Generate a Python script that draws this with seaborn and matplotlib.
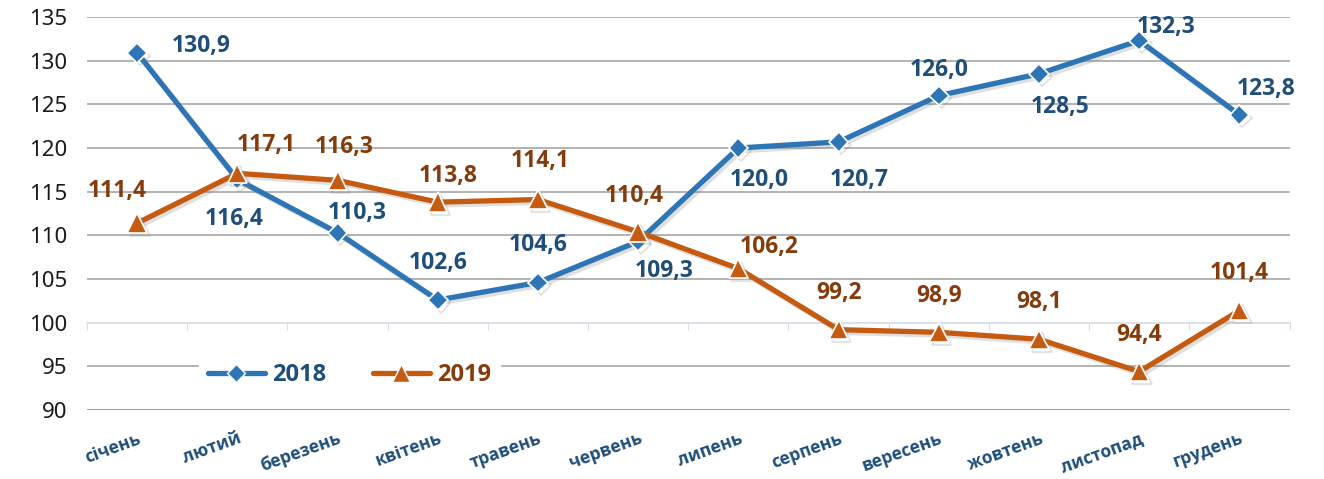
import seaborn as sns
import matplotlib.pyplot as plt
import matplotlib.patheffects as pe
from matplotlib import font_manager as fm
from matplotlib.lines import Line2D
import pandas as pd

# Data
months = ['січень', 'лютий', 'березень', 'квітень', 'травень', 'червень',
          'липень', 'серпень', 'вересень', 'жовтень', 'листопад', 'грудень']
v2018 = [130.9, 116.4, 110.3, 102.6, 104.6, 109.3, 120.0, 120.7, 126.0, 128.5, 132.3, 123.8]
v2019 = [111.4, 117.1, 116.3, 113.8, 114.1, 110.4, 106.2, 99.2, 98.9, 98.1, 94.4, 101.4]

# label offsets in pixels (dx, dy) relative to each point
off2018 = [(64, 7), (-3, -40), (20, 20), (0, 37), (0, 38), (26, -30),
           (21, -32), (21, -38), (0, 26), (21, -33), (27, 14), (27, 26)]
off2019 = [(-20, 32), (29, 28), (7, 33), (10, 26), (2, 39), (-4, 36),
           (31, 22), (0, 37), (0, 36), (0, 37), (0, 37), (0, 37)]

c18_line, c18_text = '#2E75B6', '#1F4E79'
c19_line, c19_text = '#C55A11', '#843C0C'

df = pd.DataFrame({
    'month': months * 2,
    'value': v2018 + v2019,
    'year': ['2018'] * 12 + ['2019'] * 12,
})

sns.set_style('white')

# pick a family that really has a bold face installed
bold_fams = {f.name for f in fm.fontManager.ttflist
             if (f.weight == 'bold' or (isinstance(f.weight, int) and f.weight >= 700))}
bold_font = next((f for f in ['Noto Sans', 'Open Sans', 'Lato', 'Roboto',
                              'Liberation Sans', 'DejaVu Sans'] if f in bold_fams), 'DejaVu Sans')
plt.rcParams['font.family'] = ['Noto Sans', 'DejaVu Sans']
bfam = [bold_font, 'DejaVu Sans']

fig = plt.figure(figsize=(13.24, 4.79), dpi=100)
ax = fig.add_axes([0.0657, 0.144, 0.9083, 0.8205])

shadow = [pe.SimpleLineShadow(offset=(2, -2), alpha=0.25, shadow_color='gray'), pe.Normal()]

sns.lineplot(data=df[df.year == '2018'], x='month', y='value', ax=ax, sort=False,
             color=c18_line, lw=3.8, marker='D', markersize=10,
             markeredgecolor='white', markeredgewidth=1.2, zorder=3)
sns.lineplot(data=df[df.year == '2019'], x='month', y='value', ax=ax, sort=False,
             color=c19_line, lw=3.8, marker='^', markersize=14,
             markeredgecolor='white', markeredgewidth=1.2, zorder=4)
for ln in ax.lines:
    ln.set_path_effects(shadow)

for i, (v, o) in enumerate(zip(v2018, off2018)):
    ax.annotate(f'{v:.1f}'.replace('.', ','), (i, v), xytext=o, textcoords='offset pixels',
                ha='center', va='center', fontsize=16.5, fontweight='bold',
                family=bfam, color=c18_text, zorder=6)
for i, (v, o) in enumerate(zip(v2019, off2019)):
    ax.annotate(f'{v:.1f}'.replace('.', ','), (i, v), xytext=o, textcoords='offset pixels',
                ha='center', va='center', fontsize=16.5, fontweight='bold',
                family=bfam, color=c19_text, zorder=6)

ax.set_xlim(-0.5, 11.5)
ax.set_ylim(90, 135)
ax.set_yticks(range(90, 136, 5))
ax.yaxis.grid(True, color='#A6A6A6', lw=1.2)
ax.set_axisbelow(True)
for gl, t in zip(ax.get_ygridlines(), range(90, 136, 5)):
    if t == 100:
        gl.set_visible(False)
    if t == 90:
        gl.set_color('#8C8C8C')
for s in ax.spines.values():
    s.set_visible(False)
ax.set_xlabel('')
ax.set_ylabel('')
ax.tick_params(axis='y', length=0, labelsize=16, labelcolor='#1a1a1a', pad=14)
ax.tick_params(axis='x', length=0, pad=14)
plt.setp(ax.get_xticklabels(), rotation=20, ha='right', va='top', rotation_mode='anchor',
         fontsize=12.5, fontweight='bold', family=bfam, color=c18_text)

# category axis crossing at 100, with small tick marks between months
cat_ax = ax.secondary_xaxis((100 - 90) / 45)
cat_ax.set_xticks([i - 0.5 for i in range(len(months) + 1)])
cat_ax.tick_params(direction='out', length=5, color='#D6DCE5', labelbottom=False)
cat_ax.spines['bottom'].set_color('#D6DCE5')
cat_ax.spines['bottom'].set_linewidth(1.2)
cat_ax.set_xticklabels([])

handles = [Line2D([], [], color=c18_line, lw=3.8, marker='D', markersize=9,
                  markeredgecolor='white'),
           Line2D([], [], color=c19_line, lw=3.8, marker='^', markersize=13,
                  markeredgecolor='white')]
leg = ax.legend(handles, ['2018', '2019'], ncol=2, loc='lower left',
                bbox_to_anchor=(0.083, 0.005), frameon=True, framealpha=1,
                edgecolor='white', handlelength=2.4, columnspacing=2.0, handletextpad=0.3,
                prop={'weight': 'bold', 'size': 17, 'family': bfam})
leg.set_zorder(5)
for t, c in zip(leg.get_texts(), [c18_text, c19_text]):
    t.set_color(c)

plt.savefig('out.png', dpi=100)
